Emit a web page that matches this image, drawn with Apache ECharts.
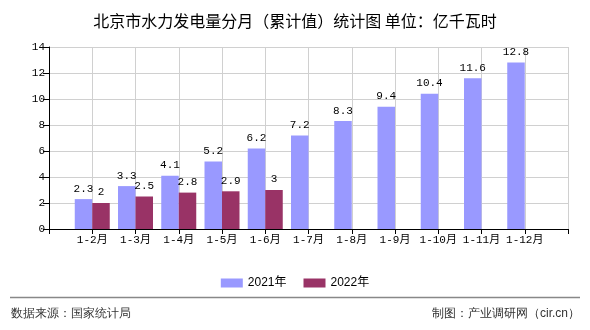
<!DOCTYPE html>
<html>
<head>
<meta charset="utf-8">
<script src="https://cdn.jsdelivr.net/npm/echarts@6/dist/echarts.min.js"></script>
<style>html,body{margin:0;padding:0;background:#fff;}#c{width:590px;height:330px;}</style>
</head>
<body>
<div id="c"></div>
<script>
var categories = ['1-2月','1-3月','1-4月','1-5月','1-6月','1-7月','1-8月','1-9月','1-10月','1-11月','1-12月'];
var series2021 = [2.3, 3.3, 4.1, 5.2, 6.2, 7.2, 8.3, 9.4, 10.4, 11.6, 12.8];
var series2022 = [2, 2.5, 2.8, 2.9, 3, null, null, null, null, null, null];
var seriesNames = ['2021年', '2022年'];
var yTicks = {min: 0, max: 14, interval: 2};

// pad one empty slot at each end so categories sit on grid lines
var xData = [''].concat(categories).concat(['']);
function pad(a){ return [null].concat(a).concat([null]); }

var monoFont = '"Liberation Mono", "Noto Sans CJK SC", monospace';
var chart = echarts.init(document.getElementById('c'), null, {renderer: 'canvas'});
chart.setOption({
  animation: false,
  backgroundColor: '#fff',
  title: {
    text: '北京市水力发电量分月（累计值）统计图 单位：亿千瓦时',
    left: 'center', top: 8,
    textStyle: {fontSize: 16, fontWeight: 'normal', color: '#000', fontFamily: '"Noto Sans CJK SC", sans-serif'}
  },
  legend: {
    top: 272, left: 'center',
    itemWidth: 22, itemHeight: 9, itemGap: 17,
    icon: 'rect',
    textStyle: {fontSize: 12, color: '#000', fontFamily: '"Liberation Sans", "Noto Sans CJK SC", sans-serif'},
    data: seriesNames
  },
  grid: {left: 49, right: 22, top: 47, bottom: 101, containLabel: false},
  xAxis: {
    type: 'category',
    data: xData,
    boundaryGap: false,
    axisLine: {show: true, lineStyle: {color: '#000', width: 1}},
    axisTick: {show: true, length: 5, lineStyle: {color: '#000'}},
    axisLabel: {interval: 0, fontSize: 11, color: '#000', margin: 6, fontFamily: monoFont},
    splitLine: {show: true, lineStyle: {color: '#d0d0d0', width: 1}}
  },
  yAxis: {
    type: 'value',
    min: yTicks.min, max: yTicks.max, interval: yTicks.interval,
    axisLine: {show: true, lineStyle: {color: '#000', width: 1}},
    axisTick: {show: true, length: 6, lineStyle: {color: '#000'}},
    axisLabel: {fontSize: 11, color: '#000', margin: 4, fontFamily: monoFont},
    splitLine: {show: true, lineStyle: {color: '#d0d0d0', width: 1}}
  },
  series: [
    {
      name: seriesNames[0], type: 'bar', data: pad(series2021),
      barWidth: 17.5, barGap: '0%',
      itemStyle: {color: '#9999ff'},
      label: {show: true, position: 'top', distance: 5, fontSize: 11, color: '#000', fontFamily: monoFont}
    },
    {
      name: seriesNames[1], type: 'bar', data: pad(series2022),
      barWidth: 17.5, barGap: '0%',
      itemStyle: {color: '#993366'},
      label: {show: true, position: 'top', distance: 5, fontSize: 11, color: '#000', fontFamily: monoFont}
    }
  ],
  graphic: [
    {type: 'line', shape: {x1: 10, y1: 297.5, x2: 580, y2: 297.5}, style: {stroke: '#888', lineWidth: 1.5}},
    {type: 'text', left: 11, top: 308, style: {text: '数据来源：国家统计局', fontSize: 12, fill: '#333', font: '12px "Noto Sans CJK SC", sans-serif'}},
    {type: 'text', right: 10, top: 308, style: {text: '制图：产业调研网（cir.cn）', fontSize: 12, fill: '#333', font: '12px "Noto Sans CJK SC", sans-serif'}}
  ]
});
</script>
</body>
</html>
